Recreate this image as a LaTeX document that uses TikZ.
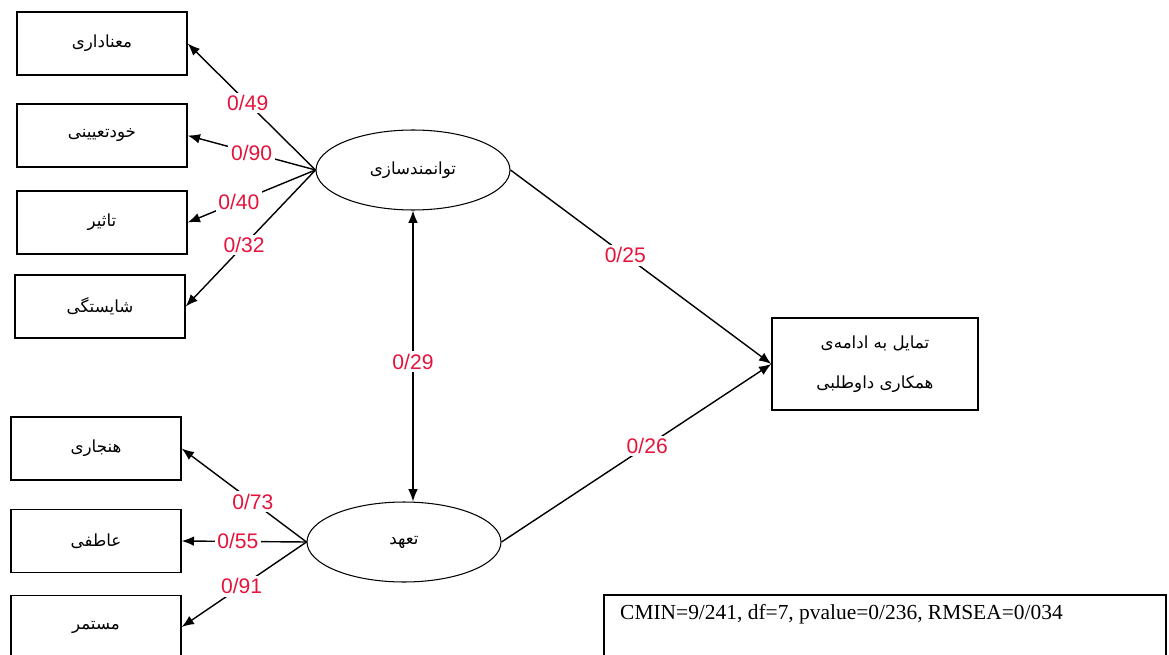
\documentclass[tikz,border=0pt]{standalone}
\usepackage{fontspec}
\setmainfont{Liberation Serif}
\newfontfamily\persfont[Script=Arabic]{DejaVu Sans}
\newfontfamily\lblfont{Liberation Sans}
\TeXXeTstate=1
\definecolor{loadred}{RGB}{228, 20, 60}
\usetikzlibrary{shapes.geometric, arrows.meta, positioning}
\tikzset{
  indbox/.style={draw, line width=0.8pt, minimum width=3.4cm, minimum height=1.26cm, inner sep=2pt, font=\persfont\fontsize{9.5}{11}\selectfont},
  latent/.style={draw, ellipse, line width=0.6pt, minimum width=3.88cm, minimum height=1.6cm, inner sep=1pt, font=\persfont\fontsize{9.5}{11}\selectfont},
  arr/.style={-{Latex[length=7pt, width=5.5pt]}, line width=0.8pt},
  loadlbl/.style={fill=white, inner sep=1.5pt, text=loadred, font=\lblfont\fontsize{12}{14}\selectfont}
}

\begin{document}
\begin{tikzpicture}[x=0.02cm, y=-0.02cm]
  \useasboundingbox (0,0) rectangle (1169,655);
  \clip (0,0) rectangle (1169,655);

  % indicator boxes
  \node[indbox] (m1) at (102, 43.5) {\beginR معناداری\endR};
  \node[indbox] (m2) at (102, 135.5) {\beginR خودتعیینی\endR};
  \node[indbox] (m3) at (102, 222.5) {\beginR تاثیر\endR};
  \node[indbox] (m4) at (100, 306.5) {\beginR شایستگی\endR};
  \node[indbox] (c1) at (96, 448.5) {\beginR هنجاری\endR};
  \node[indbox] (c2) at (96, 541) {\beginR عاطفی\endR};
  \node[indbox] (c3) at (96, 627) {\beginR مستمر\endR};

  % latent variables
  \node[latent] (emp) at (413, 170) {\beginR توانمندسازی\endR};
  \node[latent] (com) at (404, 542) {\beginR تعهد\endR};

  % outcome
  \node[indbox, minimum width=4.12cm, minimum height=1.84cm, align=center, font=\persfont\fontsize{9.5}{23}\selectfont] (will) at (875, 364)
    {\beginR تمایل به ادامه‌ی\endR\\\beginR همکاری داوطلبی\endR};

  % loadings
  \draw[arr] (emp.west) -- node[loadlbl, pos=0.53] {0/49} (m1.east);
  \draw[arr] (emp.west) -- node[loadlbl, pos=0.5] {0/90} (m2.east);
  \draw[arr] (emp.west) -- node[loadlbl, pos=0.6] {0/40} (m3.east);
  \draw[arr] (emp.west) -- node[loadlbl, pos=0.55] {0/32} (m4.east);
  \draw[arr] (com.west) -- node[loadlbl, pos=0.43] {0/73} (c1.east);
  \draw[arr] (com.west) -- node[loadlbl, pos=0.55] {0/55} (c2.east);
  \draw[arr] (com.west) -- node[loadlbl, pos=0.52] {0/91} (c3.east);

  % structural paths
  \draw[{Latex[length=7pt, width=5.5pt]}-{Latex[length=7pt, width=5.5pt]}, line width=0.8pt]
    (emp.south) -- node[loadlbl, pos=0.52] {0/29} (emp.south |- com.north);
  \draw[arr] (emp.east) -- node[loadlbl, pos=0.44] {0/25} (will.west);
  \draw[arr] (com.east) -- node[loadlbl, pos=0.54] {0/26} (will.west);

  % fit indices
  \draw[line width=0.8pt] (604, 595) rectangle (1166, 690);
  \node[anchor=west, font=\fontsize{12.2}{14}\selectfont] (fit) at (614, 614) {CMIN=9/241, df=7, pvalue=0/236, RMSEA=0/034};
\end{tikzpicture}
\end{document}
